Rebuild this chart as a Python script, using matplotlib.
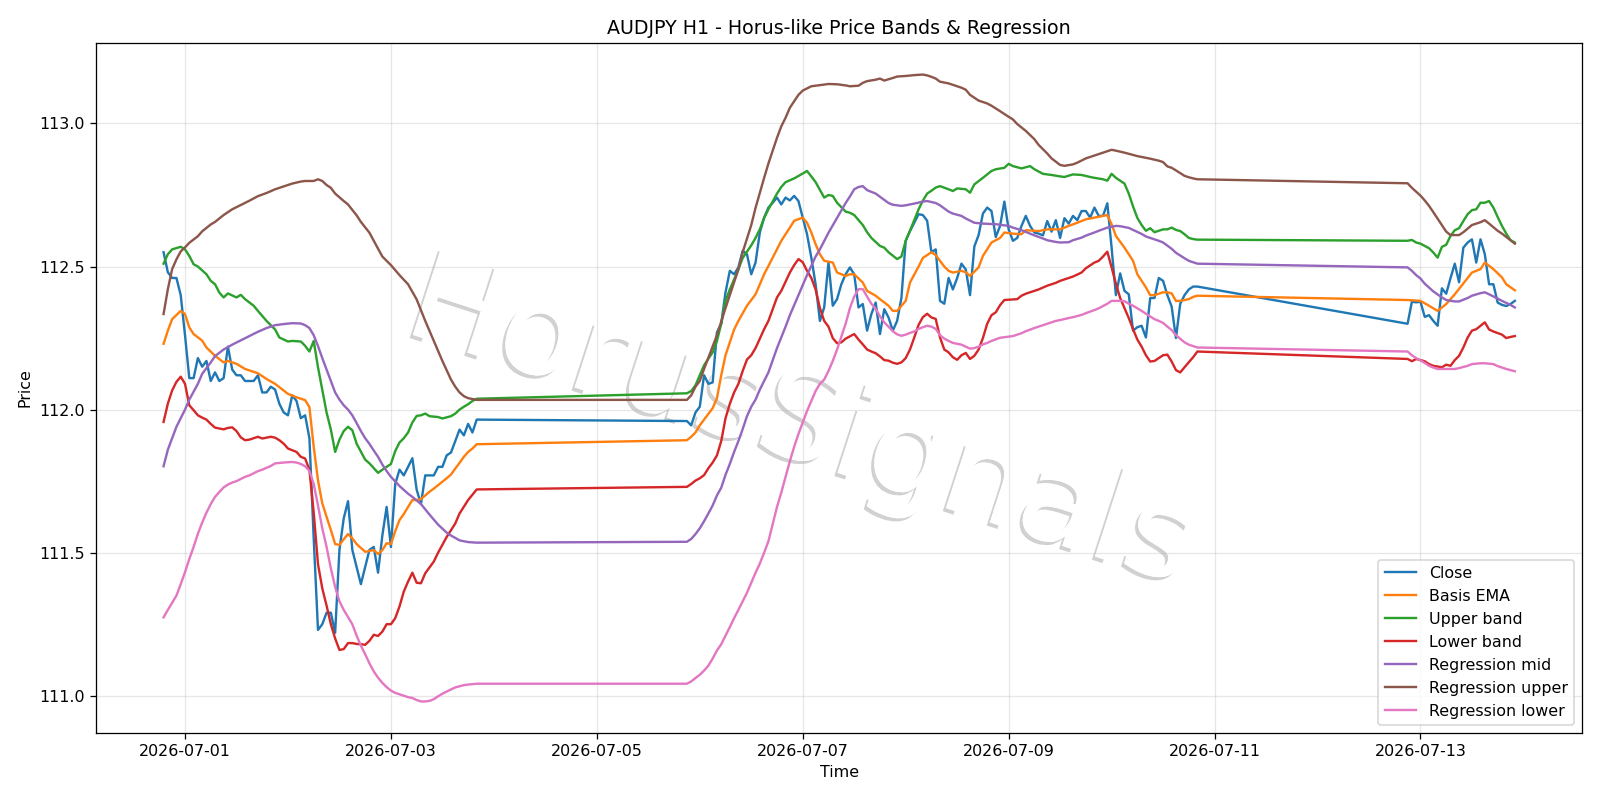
import numpy as np
import pandas as pd
import matplotlib
matplotlib.use("Agg")
import matplotlib.pyplot as plt
import matplotlib.dates as mdates
import matplotlib.patheffects as pe

# hours counted from 2026-06-30 00:00 (UTC), H1 bars, weekend gaps
T0 = pd.Timestamp("2026-06-30 00:00")

# ── close prices, hourly, three trading blocks ──
close_start = [19, 141, 309]
close_seg1 = [112.55, 112.48, 112.46, 112.46, 112.40, 112.26, 112.11, 112.11, 112.18, 112.15,
              112.17, 112.10, 112.13, 112.10, 112.11, 112.22, 112.14, 112.12, 112.12, 112.10,
              112.10, 112.10, 112.12, 112.06, 112.06, 112.08, 112.07, 112.02, 111.99, 111.98,
              112.05, 112.03, 111.97, 111.98, 111.90, 111.55, 111.23, 111.25, 111.29, 111.29,
              111.22, 111.51, 111.62, 111.68, 111.51, 111.45, 111.39, 111.45, 111.51, 111.52,
              111.43, 111.56, 111.66, 111.52, 111.74, 111.79, 111.77, 111.80, 111.83, 111.72,
              111.67, 111.77, 111.77, 111.77, 111.80, 111.80, 111.84, 111.85, 111.89, 111.93,
              111.91, 111.95, 111.92, 111.965]
close_seg2 = [111.96, 111.945, 111.99, 112.01, 112.12, 112.09, 112.095, 112.27, 112.30, 112.41,
              112.485, 112.473, 112.497, 112.555, 112.543, 112.473, 112.514, 112.619, 112.671, 112.706,
              112.723, 112.741, 112.717, 112.741, 112.731, 112.747, 112.729, 112.671, 112.613, 112.531,
              112.438, 112.31, 112.357, 112.514, 112.363, 112.386, 112.438, 112.473, 112.497, 112.473,
              112.357, 112.369, 112.276, 112.334, 112.374, 112.264, 112.351, 112.322, 112.276, 112.31,
              112.39, 112.59, 112.624, 112.653, 112.683, 112.68, 112.66, 112.55, 112.56, 112.38,
              112.37, 112.46, 112.42, 112.46, 112.51, 112.49, 112.40, 112.57, 112.61, 112.685,
              112.706, 112.694, 112.603, 112.642, 112.727, 112.63, 112.59, 112.60, 112.642, 112.677,
              112.642, 112.619, 112.615, 112.609, 112.659, 112.622, 112.662, 112.60, 112.669, 112.65,
              112.677, 112.662, 112.694, 112.694, 112.671, 112.706, 112.677, 112.677, 112.721, 112.566,
              112.40, 112.476, 112.415, 112.403, 112.276, 112.288, 112.293, 112.252, 112.39, 112.39,
              112.46, 112.45, 112.40, 112.36, 112.25, 112.37, 112.40, 112.42, 112.43, 112.43]
close_seg3 = [112.30, 112.377, 112.375, 112.377, 112.324, 112.33, 112.31, 112.293, 112.424, 112.405,
              112.459, 112.51, 112.445, 112.566, 112.584, 112.595, 112.514, 112.595, 112.543, 112.438,
              112.438, 112.374, 112.366, 112.362, 112.369, 112.38]

# ── band / regression lines: (hour, price) ──
ema_pts = [(19, 112.23), (20, 112.276), (21, 112.316), (23, 112.345), (24, 112.334), (25, 112.287),
           (26, 112.264), (28, 112.241), (29, 112.217), (31, 112.188), (33, 112.165), (34, 112.17),
           (36, 112.16), (38, 112.142), (41, 112.127), (43, 112.107), (45, 112.09), (48, 112.055),
           (50, 112.043), (52, 112.033), (53, 112.009), (54, 111.87), (55, 111.753), (56, 111.672),
           (58, 111.579), (59, 111.53), (60, 111.527), (61, 111.547), (62, 111.565), (63, 111.55),
           (64, 111.53), (66, 111.503), (68, 111.509), (69, 111.495), (70, 111.509), (71, 111.533),
           (72, 111.53), (73, 111.575), (74, 111.614), (75, 111.635), (76, 111.66), (77, 111.684),
           (78, 111.684), (79, 111.687), (80, 111.70), (81, 111.713), (82, 111.724), (83, 111.736),
           (84, 111.748), (85, 111.76), (86, 111.773), (87, 111.794), (88, 111.814), (89, 111.835),
           (90, 111.852), (91, 111.864), (92, 111.879),
           (141, 111.893), (142, 111.905), (143, 111.92), (144, 111.945), (145, 111.965), (146, 111.985),
           (147, 112.005), (148, 112.04), (149, 112.12), (150, 112.19), (151, 112.235), (152, 112.28),
           (153, 112.31), (155, 112.363), (157, 112.403), (159, 112.473), (161, 112.531), (163, 112.59),
           (165, 112.636), (166, 112.66), (168, 112.671), (169, 112.653), (170, 112.619), (171, 112.578),
           (172, 112.543), (173, 112.52), (175, 112.514), (176, 112.479), (178, 112.467), (179, 112.473),
           (180, 112.473), (182, 112.444), (183, 112.415), (185, 112.398), (186, 112.386), (188, 112.363),
           (189, 112.345), (190, 112.345), (192, 112.38), (193, 112.444), (195, 112.50), (196, 112.53),
           (198, 112.55), (199, 112.54), (200, 112.52), (201, 112.50), (202, 112.485), (203, 112.479),
           (205, 112.485), (206, 112.48), (207, 112.467), (209, 112.497), (210, 112.537), (212, 112.584),
           (214, 112.60), (215, 112.619), (217, 112.615), (219, 112.613), (220, 112.627), (223, 112.624),
           (225, 112.63), (228, 112.63), (230, 112.642), (232, 112.653), (234, 112.665), (237, 112.674),
           (239, 112.68), (240, 112.648), (241, 112.607), (243, 112.566), (245, 112.52), (246, 112.473),
           (248, 112.427), (249, 112.40), (250, 112.40), (252, 112.41), (253, 112.41), (254, 112.406),
           (255, 112.38), (256, 112.38), (258, 112.386), (259, 112.394), (260, 112.398),
           (309, 112.383), (312, 112.38), (314, 112.363), (316, 112.345), (318, 112.369), (320, 112.403),
           (322, 112.441), (324, 112.479), (326, 112.491), (327, 112.514), (329, 112.491), (331, 112.462),
           (332, 112.438), (334, 112.417)]

upper_pts = [(19, 112.51), (20, 112.543), (21, 112.56), (23, 112.569), (24, 112.56), (25, 112.537),
             (26, 112.508), (27, 112.50), (29, 112.473), (30, 112.45), (31, 112.438), (32, 112.409),
             (33, 112.392), (34, 112.406), (36, 112.392), (37, 112.401), (38, 112.386), (40, 112.363),
             (41, 112.345), (43, 112.31), (45, 112.28), (46, 112.252), (48, 112.238), (49, 112.24),
             (51, 112.238), (52, 112.223), (53, 112.203), (54, 112.24), (55, 112.148), (56, 112.07),
             (57, 111.99), (58, 111.93), (59, 111.852), (60, 111.895), (61, 111.925), (62, 111.94),
             (63, 111.928), (64, 111.881), (66, 111.825), (67, 111.812), (69, 111.779), (70, 111.79),
             (71, 111.80), (72, 111.81), (73, 111.855), (74, 111.885), (75, 111.90), (76, 111.92),
             (77, 111.955), (78, 111.978), (79, 111.98), (80, 111.986), (81, 111.977), (83, 111.974),
             (84, 111.969), (86, 111.977), (87, 111.986), (88, 112.0), (89, 112.01), (90, 112.019),
             (91, 112.03), (92, 112.038),
             (141, 112.057), (142, 112.065), (143, 112.085), (144, 112.12), (145, 112.155), (146, 112.178),
             (147, 112.20), (148, 112.24), (149, 112.30), (150, 112.38), (151, 112.42), (153, 112.49),
             (154, 112.53), (156, 112.574), (157, 112.60), (158, 112.63), (159, 112.67), (160, 112.70),
             (162, 112.755), (163, 112.778), (164, 112.795), (166, 112.808), (168, 112.825), (169, 112.834),
             (170, 112.815), (171, 112.795), (173, 112.741), (174, 112.75), (175, 112.747), (176, 112.723),
             (178, 112.692), (179, 112.688), (180, 112.68), (182, 112.645), (183, 112.62), (184, 112.60),
             (186, 112.572), (187, 112.566), (188, 112.55), (190, 112.526), (191, 112.535), (192, 112.59),
             (193, 112.625), (195, 112.70), (196, 112.73), (197, 112.755), (198, 112.765), (199, 112.776),
             (200, 112.781), (202, 112.77), (203, 112.764), (204, 112.773), (206, 112.77), (207, 112.758),
             (208, 112.787), (210, 112.81), (212, 112.834), (213, 112.84), (215, 112.845), (216, 112.859),
             (217, 112.851), (219, 112.843), (221, 112.851), (222, 112.84), (224, 112.824), (226, 112.82),
             (228, 112.815), (229, 112.813), (231, 112.822), (233, 112.82), (235, 112.813), (236, 112.81),
             (238, 112.805), (239, 112.80), (240, 112.824), (241, 112.81), (242, 112.80), (243, 112.79),
             (244, 112.755), (245, 112.71), (246, 112.67), (247, 112.645), (248, 112.625), (249, 112.634),
             (250, 112.62), (251, 112.625), (252, 112.63), (253, 112.63), (254, 112.636), (255, 112.628),
             (256, 112.624), (257, 112.613), (258, 112.60), (259, 112.596), (260, 112.594),
             (309, 112.59), (310, 112.593), (311, 112.584), (312, 112.58), (314, 112.564), (315, 112.549),
             (316, 112.531), (317, 112.569), (318, 112.576), (319, 112.607), (320, 112.627), (321, 112.634),
             (322, 112.659), (323, 112.683), (324, 112.697), (325, 112.70), (326, 112.723), (327, 112.723),
             (328, 112.729), (329, 112.706), (330, 112.673), (331, 112.642), (332, 112.615), (333, 112.592),
             (334, 112.584)]

lower_pts = [(19, 111.957), (20, 112.021), (21, 112.067), (22, 112.097), (23, 112.115), (24, 112.09),
             (25, 112.015), (26, 111.998), (27, 111.98), (28, 111.972), (29, 111.965), (30, 111.95),
             (31, 111.937), (33, 111.931), (34, 111.936), (35, 111.938), (36, 111.925), (37, 111.903),
             (38, 111.893), (39, 111.895), (40, 111.9), (41, 111.905), (42, 111.899), (44, 111.905),
             (45, 111.902), (46, 111.893), (47, 111.881), (48, 111.864), (50, 111.852), (51, 111.835),
             (52, 111.829), (53, 111.79), (54, 111.64), (55, 111.46), (56, 111.375), (57, 111.315),
             (58, 111.25), (59, 111.20), (60, 111.16), (61, 111.163), (62, 111.184), (63, 111.184),
             (64, 111.181), (65, 111.18), (66, 111.178), (67, 111.192), (68, 111.213), (69, 111.209),
             (70, 111.224), (71, 111.25), (72, 111.25), (73, 111.271), (74, 111.312), (75, 111.364),
             (76, 111.399), (77, 111.43), (78, 111.395), (79, 111.393), (80, 111.428), (82, 111.469),
             (83, 111.50), (85, 111.555), (87, 111.602), (88, 111.637), (90, 111.684), (92, 111.721),
             (141, 111.73), (142, 111.74), (143, 111.752), (144, 111.76), (145, 111.771), (146, 111.795),
             (147, 111.815), (148, 111.84), (149, 111.89), (150, 111.97), (151, 112.02), (152, 112.06),
             (153, 112.09), (154, 112.135), (155, 112.175), (156, 112.19), (157, 112.215), (159, 112.281),
             (160, 112.31), (162, 112.392), (163, 112.415), (165, 112.479), (166, 112.505), (167, 112.526),
             (168, 112.515), (169, 112.485), (170, 112.46), (171, 112.42), (172, 112.355), (173, 112.31),
             (174, 112.29), (175, 112.25), (176, 112.232), (177, 112.235), (178, 112.248), (179, 112.256),
             (180, 112.264), (181, 112.245), (182, 112.228), (183, 112.21), (184, 112.203), (185, 112.197),
             (186, 112.186), (187, 112.173), (188, 112.171), (189, 112.164), (190, 112.16), (191, 112.165),
             (192, 112.18), (193, 112.21), (194, 112.252), (195, 112.296), (196, 112.323), (197, 112.335),
             (198, 112.322), (199, 112.317), (200, 112.252), (201, 112.21), (202, 112.2), (203, 112.183),
             (204, 112.174), (205, 112.19), (206, 112.198), (207, 112.177), (208, 112.188), (209, 112.21),
             (210, 112.25), (211, 112.3), (212, 112.33), (213, 112.34), (214, 112.365), (215, 112.383),
             (218, 112.386), (219, 112.398), (220, 112.405), (222, 112.415), (223, 112.42), (225, 112.433),
             (227, 112.443), (228, 112.45), (230, 112.46), (231, 112.465), (233, 112.479), (234, 112.494),
             (236, 112.514), (237, 112.52), (238, 112.535), (239, 112.552), (240, 112.497), (241, 112.44),
             (242, 112.39), (243, 112.355), (244, 112.32), (245, 112.281), (246, 112.245), (247, 112.22),
             (248, 112.19), (249, 112.168), (250, 112.17), (251, 112.18), (252, 112.19), (253, 112.192),
             (254, 112.168), (255, 112.138), (256, 112.13), (257, 112.148), (259, 112.183), (260, 112.203),
             (309, 112.177), (310, 112.169), (311, 112.177), (313, 112.169), (314, 112.159), (315, 112.153),
             (317, 112.148), (318, 112.157), (319, 112.153), (320, 112.173), (321, 112.188), (322, 112.217),
             (323, 112.252), (324, 112.276), (325, 112.281), (326, 112.293), (327, 112.305), (328, 112.28),
             (329, 112.273), (331, 112.262), (332, 112.25), (333, 112.254), (334, 112.257)]

reg_mid_pts = [(19, 111.802), (20, 111.86), (21, 111.90), (22, 111.94), (24, 112.0), (25, 112.035),
               (27, 112.09), (28, 112.125), (30, 112.165), (31, 112.187), (33, 112.21), (35, 112.227),
               (37, 112.242), (39, 112.257), (41, 112.272), (43, 112.285), (45, 112.295), (47, 112.299),
               (49, 112.302), (51, 112.301), (52, 112.295), (53, 112.285), (54, 112.26), (55, 112.222),
               (56, 112.18), (57, 112.14), (58, 112.10), (59, 112.06), (60, 112.035), (61, 112.015),
               (62, 112.0), (63, 111.98), (64, 111.953), (65, 111.925), (66, 111.90), (67, 111.88),
               (68, 111.857), (69, 111.835), (70, 111.808), (71, 111.785), (72, 111.765), (74, 111.733),
               (76, 111.706), (77, 111.695), (79, 111.67), (81, 111.633), (83, 111.598), (85, 111.57),
               (86, 111.56), (88, 111.543), (90, 111.537), (92, 111.535),
               (141, 111.538), (142, 111.548), (143, 111.565), (144, 111.585), (145, 111.61), (146, 111.637),
               (147, 111.665), (148, 111.70), (149, 111.727), (150, 111.772), (151, 111.81), (152, 111.852),
               (153, 111.89), (154, 111.932), (155, 111.977), (156, 112.01), (157, 112.035), (158, 112.07),
               (160, 112.13), (162, 112.215), (164, 112.29), (165, 112.33), (167, 112.40), (169, 112.47),
               (171, 112.535), (172, 112.56), (174, 112.618), (176, 112.67), (178, 112.722), (179, 112.745),
               (180, 112.77), (181, 112.778), (182, 112.781), (183, 112.767), (185, 112.755), (186, 112.744),
               (188, 112.722), (189, 112.716), (191, 112.712), (192, 112.714), (194, 112.72), (196, 112.727),
               (197, 112.729), (199, 112.722), (200, 112.714), (202, 112.692), (203, 112.685), (205, 112.677),
               (206, 112.668), (208, 112.653), (210, 112.65), (213, 112.648), (216, 112.642), (217, 112.636),
               (219, 112.627), (220, 112.621), (222, 112.609), (224, 112.598), (225, 112.592), (227, 112.586),
               (228, 112.584), (230, 112.585), (231, 112.592), (233, 112.601), (234, 112.608), (236, 112.619),
               (237, 112.625), (239, 112.636), (241, 112.642), (242, 112.641), (244, 112.635), (245, 112.628),
               (247, 112.614), (248, 112.605), (250, 112.595), (251, 112.59), (252, 112.584), (253, 112.573),
               (254, 112.562), (255, 112.548), (257, 112.529), (258, 112.52), (260, 112.51),
               (309, 112.497), (310, 112.485), (311, 112.47), (312, 112.458), (313, 112.44), (315, 112.413),
               (317, 112.392), (318, 112.383), (320, 112.378), (321, 112.378), (323, 112.39), (324, 112.398),
               (326, 112.407), (327, 112.41), (328, 112.403), (330, 112.388), (331, 112.38), (333, 112.366),
               (334, 112.357)]

reg_up_pts = [(19, 112.334), (20, 112.421), (21, 112.491), (22, 112.525), (23, 112.553), (24, 112.567),
              (25, 112.583), (27, 112.606), (28, 112.623), (30, 112.647), (31, 112.656), (33, 112.68),
              (35, 112.70), (37, 112.715), (39, 112.73), (41, 112.746), (43, 112.757), (45, 112.77),
              (47, 112.78), (49, 112.79), (51, 112.797), (52, 112.799), (54, 112.799), (55, 112.805),
              (56, 112.799), (57, 112.785), (58, 112.775), (59, 112.755), (61, 112.729), (62, 112.717),
              (64, 112.679), (65, 112.656), (67, 112.618), (68, 112.59), (70, 112.535), (72, 112.505),
              (74, 112.47), (76, 112.438), (78, 112.385), (80, 112.31), (82, 112.24), (84, 112.17),
              (86, 112.105), (87, 112.08), (88, 112.06), (89, 112.047), (90, 112.04), (92, 112.034),
              (141, 112.034), (142, 112.05), (143, 112.08), (144, 112.10), (145, 112.142), (147, 112.22),
              (148, 112.26), (150, 112.355), (151, 112.40), (153, 112.49), (154, 112.55), (156, 112.645),
              (157, 112.705), (159, 112.81), (160, 112.86), (162, 112.95), (163, 112.99), (164, 113.02),
              (165, 113.055), (167, 113.10), (168, 113.115), (170, 113.13), (172, 113.134), (174, 113.138),
              (176, 113.137), (178, 113.133), (179, 113.13), (181, 113.132), (182, 113.142), (183, 113.148),
              (185, 113.153), (186, 113.157), (187, 113.15), (189, 113.159), (190, 113.164), (192, 113.166),
              (194, 113.169), (196, 113.171), (197, 113.168), (198, 113.163), (199, 113.157), (200, 113.146),
              (202, 113.14), (203, 113.135), (205, 113.125), (206, 113.118), (207, 113.1), (208, 113.09),
              (209, 113.08), (211, 113.07), (212, 113.062), (214, 113.043), (215, 113.033), (217, 113.014),
              (218, 112.998), (220, 112.974), (222, 112.945), (223, 112.925), (225, 112.895), (226, 112.878),
              (228, 112.855), (229, 112.852), (231, 112.857), (232, 112.863), (234, 112.878), (235, 112.883),
              (237, 112.893), (239, 112.903), (240, 112.908), (241, 112.905), (243, 112.898), (245, 112.89),
              (246, 112.886), (248, 112.88), (249, 112.877), (251, 112.87), (252, 112.865), (253, 112.85),
              (254, 112.845), (255, 112.836), (257, 112.817), (258, 112.812), (259, 112.808), (260, 112.805),
              (309, 112.791), (310, 112.775), (312, 112.748), (313, 112.731), (314, 112.712), (315, 112.69),
              (317, 112.645), (318, 112.622), (319, 112.61), (321, 112.61), (322, 112.62), (324, 112.645),
              (326, 112.655), (327, 112.662), (328, 112.65), (330, 112.625), (331, 112.615), (333, 112.592),
              (334, 112.58)]

reg_lo_pts = [(19, 111.274), (20, 111.30), (21, 111.325), (22, 111.35), (23, 111.39), (24, 111.432),
              (25, 111.478), (26, 111.52), (27, 111.566), (28, 111.605), (29, 111.64), (30, 111.67),
              (31, 111.695), (32, 111.712), (33, 111.728), (34, 111.738), (35, 111.745), (36, 111.75),
              (38, 111.765), (39, 111.77), (41, 111.785), (42, 111.79), (44, 111.803), (45, 111.812),
              (47, 111.815), (49, 111.817), (50, 111.815), (51, 111.81), (52, 111.802), (53, 111.786),
              (54, 111.74), (55, 111.665), (56, 111.585), (57, 111.52), (58, 111.445), (59, 111.38),
              (60, 111.33), (61, 111.30), (62, 111.275), (63, 111.25), (64, 111.21), (65, 111.175),
              (66, 111.145), (67, 111.113), (68, 111.085), (69, 111.063), (70, 111.045), (71, 111.03),
              (72, 111.018), (73, 111.01), (74, 111.005), (75, 111.0), (76, 110.995), (77, 110.992),
              (78, 110.985), (79, 110.98), (80, 110.98), (81, 110.982), (82, 110.988), (83, 110.998),
              (84, 111.007), (86, 111.022), (87, 111.029), (89, 111.037), (90, 111.039), (92, 111.042),
              (141, 111.042), (142, 111.05), (143, 111.062), (144, 111.073), (145, 111.088), (146, 111.105),
              (147, 111.13), (148, 111.158), (149, 111.18), (150, 111.21), (151, 111.24), (152, 111.271),
              (153, 111.30), (154, 111.33), (155, 111.36), (156, 111.395), (157, 111.43), (158, 111.462),
              (159, 111.50), (160, 111.54), (161, 111.60), (162, 111.66), (163, 111.71), (164, 111.765),
              (165, 111.82), (166, 111.87), (167, 111.915), (168, 111.955), (169, 111.995), (170, 112.03),
              (171, 112.065), (172, 112.09), (173, 112.105), (174, 112.135), (175, 112.17), (176, 112.21),
              (177, 112.255), (178, 112.30), (179, 112.355), (180, 112.395), (181, 112.421), (182, 112.421),
              (183, 112.395), (184, 112.37), (185, 112.352), (186, 112.326), (187, 112.305), (188, 112.29),
              (189, 112.274), (190, 112.263), (191, 112.258), (192, 112.262), (193, 112.268), (194, 112.273),
              (195, 112.282), (196, 112.288), (197, 112.293), (198, 112.29), (199, 112.282), (200, 112.26),
              (201, 112.248), (202, 112.24), (203, 112.233), (205, 112.227), (206, 112.22), (207, 112.213),
              (208, 112.215), (209, 112.22), (210, 112.228), (211, 112.233), (212, 112.24), (214, 112.251),
              (216, 112.255), (217, 112.257), (219, 112.267), (220, 112.274), (222, 112.285), (223, 112.29),
              (225, 112.30), (227, 112.31), (228, 112.313), (230, 112.32), (231, 112.323), (233, 112.331),
              (234, 112.337), (236, 112.348), (237, 112.354), (239, 112.37), (240, 112.38), (242, 112.38),
              (243, 112.379), (244, 112.37), (245, 112.363), (247, 112.345), (248, 112.335), (250, 112.316),
              (251, 112.31), (252, 112.303), (253, 112.29), (254, 112.278), (255, 112.26), (257, 112.235),
              (258, 112.227), (260, 112.217),
              (309, 112.203), (310, 112.19), (311, 112.18), (312, 112.172), (313, 112.163), (314, 112.153),
              (315, 112.147), (316, 112.142), (318, 112.142), (320, 112.142), (321, 112.145), (323, 112.153),
              (324, 112.159), (326, 112.162), (327, 112.162), (329, 112.159), (330, 112.152), (332, 112.142),
              (334, 112.134)]


def to_time(hours):
    return T0 + pd.to_timedelta(np.asarray(hours, dtype=float), unit="h")


def split(pts):
    h, v = zip(*pts)
    return to_time(h), np.array(v)


close_h = np.concatenate([s + np.arange(len(seg)) for s, seg in
                          zip(close_start, [close_seg1, close_seg2, close_seg3])])
close_v = np.array(close_seg1 + close_seg2 + close_seg3)

series = [
    ("Close", to_time(close_h), close_v),
    ("Basis EMA", *split(ema_pts)),
    ("Upper band", *split(upper_pts)),
    ("Lower band", *split(lower_pts)),
    ("Regression mid", *split(reg_mid_pts)),
    ("Regression upper", *split(reg_up_pts)),
    ("Regression lower", *split(reg_lo_pts)),
]

DPI = 1600 / 14
fig, ax = plt.subplots(figsize=(14, 7), dpi=DPI)
fig.subplots_adjust(left=0.06, right=0.989, top=0.946, bottom=0.084)

for name, t, v in series:
    ax.plot(t, v, label=name, linewidth=1.5, zorder=3)

# watermark
ax.text(0.474, 0.447, "HorusSignals", transform=ax.transAxes, fontsize=79,
        color="white", rotation=-18, ha="center", va="center", zorder=1,
        path_effects=[pe.withSimplePatchShadow(offset=(-2, -2), shadow_rgbFace="black", alpha=0.18),
                      pe.Normal()])

ax.set_title("AUDJPY H1 - Horus-like Price Bands & Regression")
ax.set_xlabel("Time")
ax.set_ylabel("Price")
ax.xaxis.set_major_locator(mdates.DayLocator(bymonthday=[1, 3, 5, 7, 9, 11, 13]))
ax.xaxis.set_major_formatter(mdates.DateFormatter("%Y-%m-%d"))
ax.grid(True, alpha=0.3)
ax.legend(loc="lower right")

fig.savefig("out.png", dpi=DPI)
